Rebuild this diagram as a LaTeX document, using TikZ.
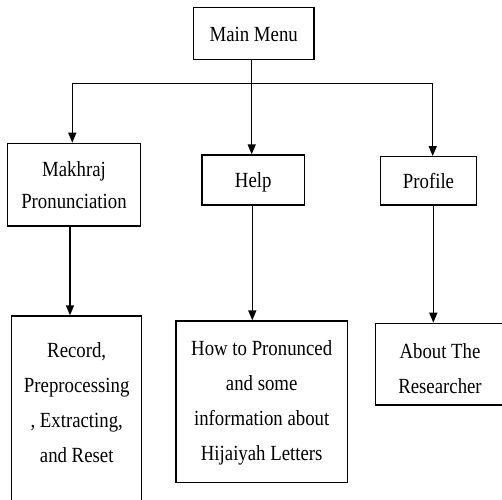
\documentclass[tikz,border=0pt]{standalone}
\usepackage{fontspec}
\setmainfont{Liberation Serif}[FakeStretch=0.87]
\usetikzlibrary{arrows.meta}
\begin{document}
\begin{tikzpicture}[x=1pt,y=-1pt,
  box/.style={draw, line width=1.4pt, inner sep=0pt, align=center, font=\fontsize{21.6}{35}\selectfont},
  arr/.style={line width=1.4pt, -{Triangle[width=8pt,length=10pt]}},
  ln/.style={line width=1.4pt}]
\useasboundingbox (0,0) rectangle (502,499);
\clip (0,0) rectangle (502,499);
\node[box, minimum width=120.7pt, minimum height=52pt, text height=16.8pt, text depth=0pt] (main) at (253.7,33.3) {Main Menu};
\node[box, minimum width=133.4pt, minimum height=82.7pt, text height=46.7pt, text depth=0pt, font=\fontsize{21.6}{32}\selectfont] (mak) at (74,184.7) {Makhraj\\Pronunciation};
\node[box, minimum width=102.3pt, minimum height=50pt, text height=15.4pt, text depth=0pt] (help) at (253.2,180) {Help};
\node[box, minimum width=96.4pt, minimum height=48.3pt, text height=14.2pt, text depth=0pt] (prof) at (428.5,180.9) {Profile};
\node[box, minimum width=130pt, minimum height=230pt, text height=119.7pt, text depth=57.7pt] (rec) at (76.7,431) {Record,\\Preprocessing\\, Extracting,\\and Reset};
\node[box, minimum width=171.3pt, minimum height=161.3pt, text height=119.7pt, text depth=3.1pt] (hlow) at (261.7,401.7) {How to Pronunced\\and some\\information about\\Hijaiyah Letters};
\node[box, minimum width=128.6pt, minimum height=81.7pt, text height=57.6pt, text depth=0pt] (plow) at (440,364.2) {About The\\Researcher};
\coordinate (j) at (251.7,83.3);
\coordinate (jl) at (72.3,83.3);
\coordinate (jr) at (432.7,83.3);
\draw[ln] (j |- main.south) -- (j);
\draw[ln] (jl) -- (jr);
\draw[arr] (jl) -- (jl |- mak.north);
\draw[arr] (j) -- (j |- help.north);
\draw[arr] (jr) -- (jr |- prof.north);
\draw[arr] ([xshift=-4pt]mak.south) -- ([xshift=-4pt]mak.south |- rec.north);
\draw[arr] ([xshift=-0.9pt]help.south) -- ([xshift=-0.9pt]help.south |- hlow.north);
\draw[arr] ([xshift=4.8pt]prof.south) -- ([xshift=4.8pt]prof.south |- plow.north);
\end{tikzpicture}
\end{document}
